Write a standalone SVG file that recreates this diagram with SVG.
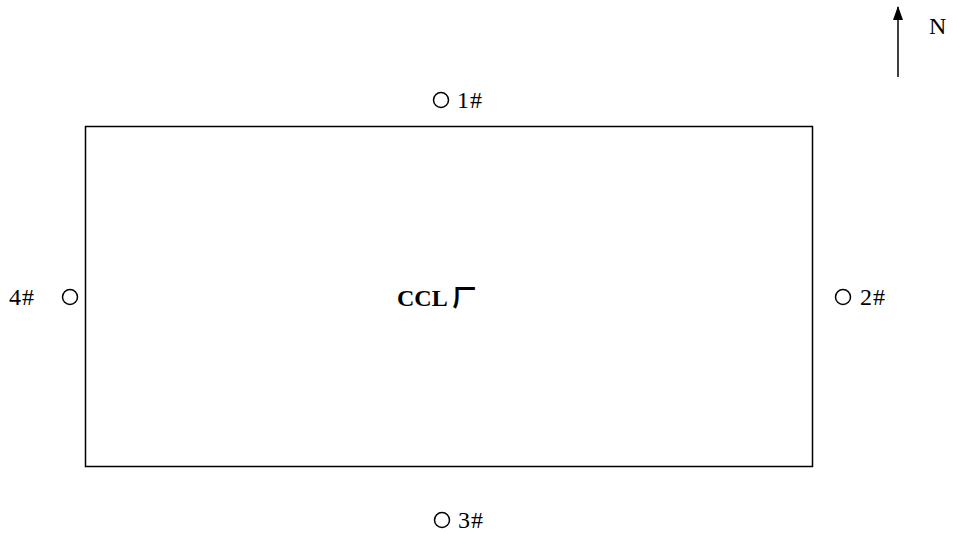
<svg xmlns="http://www.w3.org/2000/svg" width="953" height="534" viewBox="0 0 953 534">
<style>
.t{font-family:"Liberation Serif","Noto Sans CJK SC",serif;font-size:24px;fill:#000}
.c{fill:none;stroke:#000;stroke-width:1.5}
</style>
<defs><marker id="ah" viewBox="0 0 14 10" refX="13" refY="5" markerWidth="15" markerHeight="10" orient="auto" markerUnits="userSpaceOnUse"><path d="M0,0 L14,5 L0,10 z" fill="#000"/></marker></defs>
<rect width="953" height="534" fill="#fff"/>
<g id="plant"><rect x="85.5" y="126.5" width="727" height="340" fill="none" stroke="#000" stroke-width="1.5"/>
<text class="t" x="397" y="306" font-weight="bold" font-size="23">CCL 厂</text></g>
<g id="p1"><circle class="c" cx="441" cy="100" r="7.5"/><text class="t" x="457" y="108" letter-spacing="1">1#</text></g>
<g id="p2"><circle class="c" cx="843" cy="297" r="7.5"/><text class="t" x="860" y="305" letter-spacing="1">2#</text></g>
<g id="p3"><circle class="c" cx="442" cy="520" r="7.5"/><text class="t" x="458" y="528" letter-spacing="1">3#</text></g>
<g id="p4"><circle class="c" cx="70" cy="297" r="7.5"/><text class="t" x="9" y="305" letter-spacing="1">4#</text></g>
<g id="north"><line x1="898" y1="77" x2="898" y2="7" stroke="#000" stroke-width="1.5" marker-end="url(#ah)"/>
<text class="t" x="929" y="34" font-size="27">N</text></g>
</svg>
